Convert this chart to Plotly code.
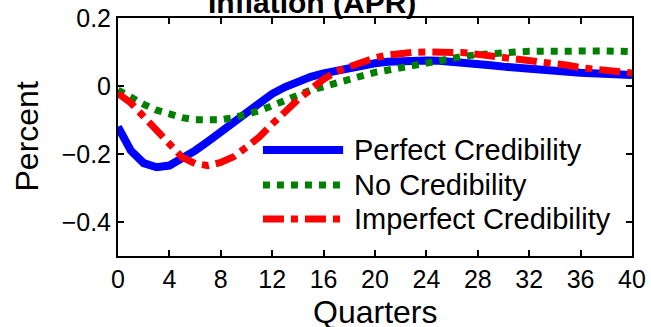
import plotly.graph_objects as go

# Quarters after the shock
quarters = list(range(41))

# Inflation response (percent, APR)
perfect = [-0.120, -0.190, -0.227, -0.239, -0.234, -0.215, -0.190, -0.163, -0.135, -0.106,
           -0.074, -0.047, -0.023, -0.003, 0.013, 0.027, 0.037, 0.046, 0.055, 0.062,
           0.067, 0.071, 0.074, 0.075, 0.075, 0.074, 0.072, 0.069, 0.065, 0.061,
           0.057, 0.053, 0.050, 0.047, 0.044, 0.042, 0.039, 0.037, 0.035, 0.033, 0.032]
no_cred = [-0.012, -0.034, -0.054, -0.071, -0.084, -0.093, -0.099, -0.101, -0.099, -0.093,
           -0.085, -0.073, -0.058, -0.042, -0.026, -0.012, -0.002, 0.010, 0.020, 0.030,
           0.040, 0.047, 0.054, 0.062, 0.070, 0.077, 0.083, 0.088, 0.092, 0.096,
           0.098, 0.100, 0.102, 0.103, 0.104, 0.104, 0.104, 0.104, 0.103, 0.102, 0.101]
imperfect = [-0.022, -0.050, -0.090, -0.130, -0.175, -0.210, -0.228, -0.234, -0.225, -0.208,
             -0.180, -0.150, -0.112, -0.075, -0.040, -0.010, 0.020, 0.043, 0.058, 0.073,
             0.083, 0.091, 0.096, 0.099, 0.100, 0.100, 0.100, 0.098, 0.093, 0.089,
             0.085, 0.081, 0.076, 0.070, 0.066, 0.061, 0.054, 0.050, 0.046, 0.042, 0.038]

labels = ['Perfect Credibility', 'No Credibility', 'Imperfect Credibility']
colors = ['#0000ff', '#008000', '#ff0000']
dashes = ['solid', 'dot', 'dashdot']
widths = [8, 7, 7]

FONT = 'Liberation Sans, Arial, sans-serif'

fig = go.Figure()
for y, name, c, d, w in zip([perfect, no_cred, imperfect], labels, colors, dashes, widths):
    fig.add_trace(go.Scatter(x=quarters, y=y, mode='lines', name=name,
                             line=dict(color=c, width=w, dash=d), showlegend=False))

# MATLAB-style legend drawn by hand (long line samples, no box)
legend_rows = [0.445, 0.298, 0.155]
for ly, name, c, d, w in zip(legend_rows, labels, colors, dashes, widths):
    fig.add_shape(type='line', xref='paper', yref='paper', x0=0.282, x1=0.438, y0=ly, y1=ly,
                  line=dict(color=c, width=w, dash=d))
    fig.add_annotation(text=name, xref='paper', yref='paper', x=0.455, y=ly,
                       xanchor='left', yanchor='middle', showarrow=False,
                       font=dict(family=FONT, size=29, color='black'))

# title (partly clipped at the top, as in the original)
fig.add_annotation(text='<b>Inflation (APR)</b>', xref='paper', yref='paper', x=0.378, y=1.067,
                   xanchor='center', yanchor='middle', showarrow=False,
                   font=dict(family=FONT, size=30, color='black'))
fig.add_annotation(text='Quarters', xref='paper', yref='paper', x=0.5, y=-0.236,
                   xanchor='center', yanchor='middle', showarrow=False,
                   font=dict(family=FONT, size=32, color='black'))
fig.add_annotation(text='Percent', xref='paper', yref='paper', x=-0.178, y=0.5,
                   xanchor='center', yanchor='middle', showarrow=False, textangle=-90,
                   font=dict(family=FONT, size=32, color='black'))

axis_style = dict(showline=True, linecolor='black', linewidth=2, mirror='ticks',
                  ticks='inside', ticklen=6, tickwidth=1.5, tickcolor='black',
                  showgrid=False, zeroline=False, automargin=False,
                  tickfont=dict(family=FONT, size=25, color='black'))
fig.update_xaxes(range=[0, 40], tickvals=list(range(0, 41, 4)), **axis_style)
fig.update_yaxes(range=[-0.5, 0.2], tickvals=[-0.4, -0.2, 0, 0.2],
                 ticktext=['\u22120.4', '\u22120.2', '0', '0.2'], **axis_style)

fig.update_layout(width=651, height=327, margin=dict(l=118, r=19, t=18, b=71),
                  plot_bgcolor='white', paper_bgcolor='white', showlegend=False)

# the page's default 8px body margin would shift the figure
fig.write_html('out.html', config={'displayModeBar': False},
               post_script="document.body.style.margin = '0';")
